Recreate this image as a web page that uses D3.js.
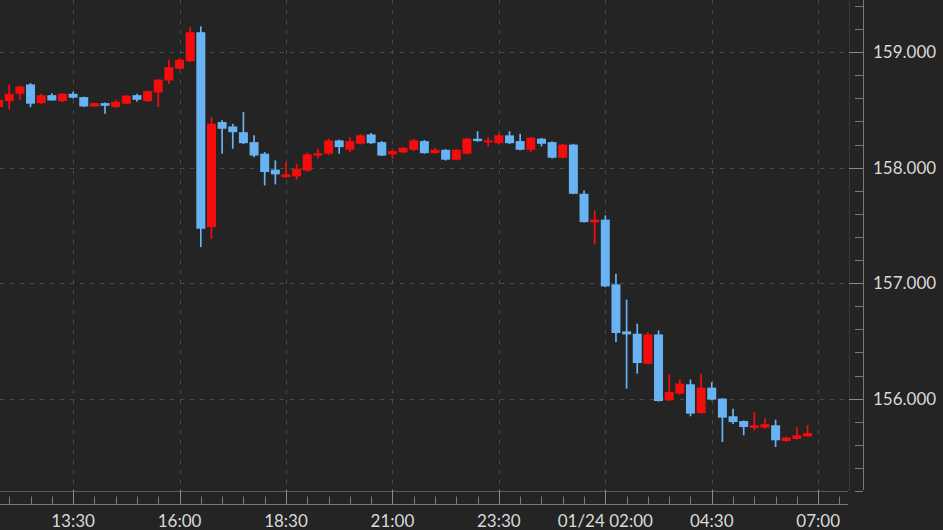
<!DOCTYPE html>
<html>
<head>
<meta charset="utf-8">
<script src="https://cdn.jsdelivr.net/npm/d3@7"></script>
<style>
html, body { margin: 0; padding: 0; background: #242424; overflow: hidden; }
svg { display: block; }
text { font-family: Lato, "Open Sans", sans-serif; fill: #d9d9d9; font-size: 17px; }
</style>
</head>
<body>
<svg id="chart"></svg>
<script>
let width = 943;
let height = 530;

// 15 分钟 K 线
let times = [
    "2025-01-23 11:45",
    "2025-01-23 12:00","2025-01-23 12:15","2025-01-23 12:30","2025-01-23 12:45",
    "2025-01-23 13:00","2025-01-23 13:15","2025-01-23 13:30","2025-01-23 13:45",
    "2025-01-23 14:00","2025-01-23 14:15","2025-01-23 14:30","2025-01-23 14:45",
    "2025-01-23 15:00","2025-01-23 15:15","2025-01-23 15:30","2025-01-23 15:45",
    "2025-01-23 16:00","2025-01-23 16:15","2025-01-23 16:30","2025-01-23 16:45",
    "2025-01-23 17:00","2025-01-23 17:15","2025-01-23 17:30","2025-01-23 17:45",
    "2025-01-23 18:00","2025-01-23 18:15","2025-01-23 18:30","2025-01-23 18:45",
    "2025-01-23 19:00","2025-01-23 19:15","2025-01-23 19:30","2025-01-23 19:45",
    "2025-01-23 20:00","2025-01-23 20:15","2025-01-23 20:30","2025-01-23 20:45",
    "2025-01-23 21:00","2025-01-23 21:15","2025-01-23 21:30","2025-01-23 21:45",
    "2025-01-23 22:00","2025-01-23 22:15","2025-01-23 22:30","2025-01-23 22:45",
    "2025-01-23 23:00","2025-01-23 23:15","2025-01-23 23:30","2025-01-23 23:45",
    "2025-01-24 00:00","2025-01-24 00:15","2025-01-24 00:30","2025-01-24 00:45",
    "2025-01-24 01:00","2025-01-24 01:15","2025-01-24 01:30","2025-01-24 01:45",
    "2025-01-24 02:00","2025-01-24 02:15","2025-01-24 02:30","2025-01-24 02:45",
    "2025-01-24 03:00","2025-01-24 03:15","2025-01-24 03:30","2025-01-24 03:45",
    "2025-01-24 04:00","2025-01-24 04:15","2025-01-24 04:30","2025-01-24 04:45",
    "2025-01-24 05:00","2025-01-24 05:15","2025-01-24 05:30","2025-01-24 05:45",
    "2025-01-24 06:00","2025-01-24 06:15","2025-01-24 06:30","2025-01-24 06:45"
];
let open = [
    158.525,
    158.576, 158.640, 158.721, 158.559,
    158.628, 158.576, 158.640, 158.611,
    158.530, 158.559, 158.525, 158.554,
    158.628, 158.576, 158.651, 158.755,
    158.857, 158.922, 159.173, 157.485,
    158.395, 158.357, 158.307, 158.221,
    158.121, 157.983, 157.918, 157.924,
    157.975, 158.105, 158.121, 158.236,
    158.155, 158.207, 158.288, 158.221,
    158.115, 158.132, 158.155, 158.230,
    158.126, 158.155, 158.069, 158.121,
    158.251, 158.219, 158.212, 158.280,
    158.230, 158.155, 158.251, 158.221,
    158.086, 158.200, 157.774, 157.526,
    157.550, 156.990, 156.582, 156.562,
    156.302, 156.556, 155.985, 156.043,
    156.124, 155.875, 156.095, 156.000,
    155.847, 155.806, 155.746, 155.749,
    155.769, 155.633, 155.651, 155.674
];
let high = [
    158.600,
    158.721, 158.712, 158.732, 158.640,
    158.645, 158.645, 158.657, 158.615,
    158.562, 158.565, 158.588, 158.630,
    158.640, 158.668, 158.768, 158.935,
    158.950, 159.217, 159.223, 158.438,
    158.410, 158.380, 158.481, 158.280,
    158.135, 158.063, 158.049, 158.035,
    158.130, 158.164, 158.250, 158.243,
    158.264, 158.290, 158.300, 158.230,
    158.164, 158.180, 158.250, 158.240,
    158.170, 158.160, 158.160, 158.260,
    158.316, 158.264, 158.300, 158.316,
    158.293, 158.265, 158.258, 158.228,
    158.205, 158.207, 157.803, 157.630,
    157.587, 157.082, 156.857, 156.649,
    156.575, 156.590, 156.210, 156.165,
    156.165, 156.216, 156.144, 156.005,
    155.913, 155.810, 155.885, 155.830,
    155.818, 155.670, 155.753, 155.769
];
let low = [
    158.500,
    158.502, 158.588, 158.525, 158.550,
    158.580, 158.570, 158.600, 158.525,
    158.527, 158.467, 158.518, 158.550,
    158.570, 158.570, 158.525, 158.727,
    158.850, 158.915, 157.312, 157.385,
    158.121, 158.164, 158.205, 158.090,
    157.846, 157.855, 157.913, 157.895,
    157.965, 158.077, 158.110, 158.121,
    158.135, 158.200, 158.205, 158.100,
    158.077, 158.125, 158.145, 158.120,
    158.120, 158.062, 158.062, 158.115,
    158.225, 158.184, 158.200, 158.205,
    158.150, 158.135, 158.184, 158.080,
    158.080, 157.770, 157.525, 157.336,
    156.965, 156.490, 156.086, 156.216,
    156.295, 155.975, 155.980, 156.035,
    155.847, 155.870, 155.985, 155.624,
    155.780, 155.682, 155.725, 155.740,
    155.581, 155.625, 155.645, 155.668
];
let close = [
    158.588,
    158.640, 158.703, 158.554, 158.628,
    158.582, 158.640, 158.606, 158.530,
    158.559, 158.536, 158.571, 158.623,
    158.588, 158.663, 158.762, 158.871,
    158.935, 159.173, 157.471, 158.381,
    158.337, 158.307, 158.212, 158.105,
    157.962, 157.942, 157.942, 157.990,
    158.115, 158.125, 158.236, 158.178,
    158.230, 158.280, 158.212, 158.105,
    158.143, 158.172, 158.236, 158.126,
    158.155, 158.069, 158.155, 158.251,
    158.230, 158.236, 158.280, 158.212,
    158.155, 158.260, 158.207, 158.086,
    158.200, 157.774, 157.529, 157.550,
    156.972, 156.568, 156.556, 156.308,
    156.556, 155.979, 156.057, 156.130,
    155.870, 156.095, 155.991, 155.835,
    155.797, 155.754, 155.769, 155.778,
    155.639, 155.662, 155.683, 155.702
];

let xDomain = ["2025-01-23 11:47", "2025-01-24 07:42"];
let xTickTimes = ["2025-01-23 13:30", "2025-01-23 16:00", "2025-01-23 18:30", "2025-01-23 21:00",
                  "2025-01-23 23:30", "2025-01-24 02:00", "2025-01-24 04:30", "2025-01-24 07:00"];
let xTickLabels = ["13:30", "16:00", "18:30", "21:00", "23:30", "01/24 02:00", "04:30", "07:00"];
let yDomain = [155.2, 159.452];
let yTicks = [156, 157, 158, 159];

let upColor = '#f50c0c';
let downColor = '#68b3f4';

let parse = d3.timeParse('%Y-%m-%d %H:%M');
let data = times.map((t, i) => ({
    t: parse(t), o: open[i], h: high[i], l: low[i], c: close[i]
}));

// 绘图区
let plotW = 849, plotH = 491;
let axisX = 863, axisY = 504.5;

let x = d3.scaleTime().domain(xDomain.map(parse)).range([0, 848]);
let y = d3.scaleLinear().domain(yDomain).range([plotH, 0]);

let svg = d3.select('#chart').attr('width', width).attr('height', height);
svg.append('rect').attr('width', width).attr('height', height).attr('fill', '#242424');

// 网格
let grid = svg.append('g')
    .attr('stroke', '#4a4a4a')
    .attr('stroke-width', 1)
    .attr('stroke-dasharray', '4,6');
grid.selectAll('line.h')
    .data(yTicks)
    .join('line')
    .attr('class', 'h')
    .attr('x1', 0).attr('x2', plotW)
    .attr('y1', d => Math.round(y(d)) + 0.5)
    .attr('y2', d => Math.round(y(d)) + 0.5);
grid.selectAll('line.v')
    .data(xTickTimes.map(parse))
    .join('line')
    .attr('class', 'v')
    .attr('y1', 0).attr('y2', plotH)
    .attr('x1', d => Math.round(x(d)) + 0.5)
    .attr('x2', d => Math.round(x(d)) + 0.5);

// 绘图区边框
svg.append('line')
    .attr('x1', plotW + 0.5).attr('x2', plotW + 0.5)
    .attr('y1', 0).attr('y2', plotH)
    .attr('stroke', '#3a3a3a');
svg.append('line')
    .attr('x1', 0).attr('x2', 848)
    .attr('y1', plotH + 0.5).attr('y2', plotH + 0.5)
    .attr('stroke', '#5a5a5a');

// K 线
let candles = svg.append('g');
candles.selectAll('line')
    .data(data)
    .join('line')
    .attr('x1', d => x(d.t)).attr('x2', d => x(d.t))
    .attr('y1', d => y(d.h)).attr('y2', d => y(d.l))
    .attr('stroke', d => d.c >= d.o ? upColor : downColor)
    .attr('stroke-width', 1.7);
candles.selectAll('rect')
    .data(data)
    .join('rect')
    .attr('x', d => x(d.t) - 4.5)
    .attr('width', 9)
    .attr('y', d => y(Math.max(d.o, d.c)))
    .attr('height', d => Math.max(2, Math.abs(y(d.o) - y(d.c))))
    .attr('fill', d => d.c >= d.o ? upColor : downColor);

// x 轴
let xAxisG = svg.append('g').attr('transform', `translate(0, ${axisY})`);
xAxisG.append('line')
    .attr('x1', 0).attr('x2', 848).attr('y1', 0).attr('y2', 0)
    .attr('stroke', '#7a7a7a');
xAxisG.selectAll('line.minor')
    .data(d3.timeMinute.every(30).range(x.domain()[0], x.domain()[1]))
    .join('line')
    .attr('class', 'minor')
    .attr('x1', d => Math.round(x(d)) + 0.5).attr('x2', d => Math.round(x(d)) + 0.5)
    .attr('y1', -8).attr('y2', 0)
    .attr('stroke', '#7a7a7a');
xAxisG.selectAll('line.major')
    .data(xTickTimes.map(parse))
    .join('line')
    .attr('class', 'major')
    .attr('x1', d => Math.round(x(d)) + 0.5).attr('x2', d => Math.round(x(d)) + 0.5)
    .attr('y1', -15).attr('y2', 0)
    .attr('stroke', '#8a8a8a');
xAxisG.selectAll('text')
    .data(xTickTimes)
    .join('text')
    .attr('x', d => x(parse(d)))
    .attr('y', 22)
    .attr('text-anchor', 'middle')
    .text((d, i) => xTickLabels[i]);

// y 轴
let yAxisG = svg.append('g').attr('transform', `translate(${axisX}, 0)`);
yAxisG.append('line')
    .attr('x1', 0.5).attr('x2', 0.5).attr('y1', 0).attr('y2', 490)
    .attr('stroke', '#7a7a7a');
yAxisG.selectAll('line.minor')
    .data(y.ticks(20))
    .join('line')
    .attr('class', 'minor')
    .attr('x1', -8).attr('x2', 0)
    .attr('y1', d => Math.round(y(d)) + 0.5).attr('y2', d => Math.round(y(d)) + 0.5)
    .attr('stroke', '#7a7a7a');
yAxisG.selectAll('line.major')
    .data(yTicks)
    .join('line')
    .attr('class', 'major')
    .attr('x1', -14).attr('x2', 0)
    .attr('y1', d => Math.round(y(d)) + 0.5).attr('y2', d => Math.round(y(d)) + 0.5)
    .attr('stroke', '#8a8a8a');
yAxisG.selectAll('text')
    .data(yTicks)
    .join('text')
    .attr('x', 10)
    .attr('y', d => y(d))
    .attr('dy', '0.36em')
    .text(d => d3.format('.3f')(d));
</script>
</body>
</html>
